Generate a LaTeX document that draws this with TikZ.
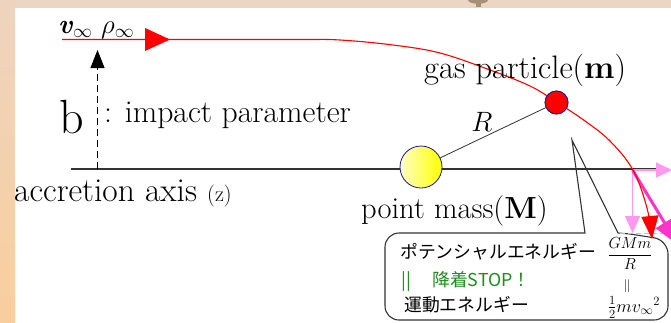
\RequirePackage{fix-cm}
\documentclass[tikz,border=0pt]{standalone}
\usepackage{fontspec}
\newfontfamily\jp{Noto Sans CJK JP}
\usetikzlibrary{arrows.meta}
\definecolor{topband}{HTML}{EBD5C3}
\definecolor{sidetop}{HTML}{EED4BE}
\definecolor{sidebot}{HTML}{F9CE9E}
\definecolor{blob}{HTML}{A88F78}
\definecolor{navy}{HTML}{1A1A80}
\definecolor{pinkA}{HTML}{FF99F0}
\definecolor{magentaA}{HTML}{FF33CC}
\definecolor{greenA}{HTML}{1E8C1E}
\definecolor{boxline}{HTML}{333333}
\tikzset{
  txt/.style={inner sep=0pt, anchor=base west},
  jtxt/.style={inner sep=0pt, anchor=base west, font={\jp\fontsize{17.8}{20}\selectfont}},
  mtxt/.style={inner sep=0pt, font=\fontsize{16}{19}\selectfont},
  mass/.style={circle, draw=navy, line width=0.8pt, minimum size=42pt, inner sep=0pt, left color=yellow!22, right color=yellow},
  particle/.style={circle, draw=navy, fill=red, line width=0.8pt, minimum size=23pt, inner sep=0pt},
  redline/.style={red, line width=1.1pt},
  axisline/.style={boxline, line width=1.2pt},
  callout/.style={boxline, line width=1.1pt},
}
\begin{document}
\begin{tikzpicture}[x=1pt,y=-1pt]
\useasboundingbox (0,0) rectangle (671,322);
\fill[white] (0,0) rectangle (671,322);
\fill[topband] (0,0) rectangle (671,8);
\shade[top color=sidetop, bottom color=sidebot] (0,0) rectangle (15,322);
\fill[blob] (468,0) .. controls (468,5) and (488,5) .. (488,0) -- cycle;
\fill[blob] (476,3) rectangle (481,7);

% axis
\coordinate (ax0) at (71,169);
\coordinate (ax1) at (657,169);
\draw[axisline] (ax0) -- (ax1);

% callout
\draw[callout] (572,140) -- (618,233) -- (630,234) [rounded corners=14pt] -- (668,240) -- (668,320) -- (385,320) -- (385,233) -- (570,233) [sharp corners] -- (585,233) -- cycle;

% impact parameter arrow
\coordinate (b0) at (97.5,169);
\coordinate (b1) at (97.5,50);
\draw[line width=1pt, dash pattern=on 7pt off 4pt, -{Triangle[length=18pt,width=14pt]}] (b0) -- (b1);

% pink arrows
\coordinate (P) at (632.5,170);
\coordinate (Pr) at (672,170);
\coordinate (Pd) at (632.5,233);
\coordinate (Pm) at (678,245);
\coordinate (d0) at (620,233);
\coordinate (d1) at (671,233);
\draw[pinkA, line width=1pt, dash pattern=on 5pt off 3pt] (d0) -- (d1);
\draw[pinkA, line width=1.2pt, -{Triangle[length=16pt,width=15pt]}] (P) -- (Pr);
\draw[pinkA, line width=1.2pt, -{Triangle[length=17pt,width=15pt]}] (P) -- (Pd);
\draw[magentaA, line width=3pt, -{Triangle[length=26pt,width=20pt]}] (P) -- (Pm);

% trajectory
\node[particle] (m) at (556.5,102.5) {};
\draw[redline, -{Triangle[length=23pt,width=17pt]}] plot[smooth, tension=0.6] coordinates {(62,39.5) (200,39.5) (300,39.5) (340,40) (393,45) (440,53) (490,70) (530,86) (556.5,102) (585,121) (610,141) (633,170) (647,208) (652,239)};
\fill[red] (145,28) -- (170,39.5) -- (145,51) -- cycle;
\node[particle] (m2) at (m) {};

% masses
\node[mass] (M) at (421,167) {};
\draw[boxline, line width=0.8pt] (M) -- (m2);

% labels
\node[inner sep=0pt, anchor=base west, font=\fontsize{27}{30}\selectfont] (vinf) at (58,33) {\textbf{\textit{v}}$_{\infty}$};
\node[inner sep=0pt, anchor=base west, font=\fontsize{27}{30}\selectfont] (rinf) at (101,33) {$\rho_{\infty}$};
\node[inner sep=0pt, anchor=base west, font=\fontsize{48}{54}\selectfont] (b) at (59,133) {b};
\node[txt, font=\fontsize{31.7}{36}\selectfont] (imp) at (104,122) {: impact parameter};
\node[txt, font=\fontsize{33.5}{38}\selectfont] (acc) at (14,201) {accretion axis {\fontsize{22}{26}\selectfont(z)}};
\node[txt, font=\fontsize{32.5}{37}\selectfont] (gas) at (424,78) {gas particle(\textbf{m})};
\node[txt, font=\fontsize{30.5}{35}\selectfont] (pm) at (361,218) {point mass(\textbf{M})};
\node[inner sep=0pt, font=\fontsize{28}{32}\selectfont] (R) at (482,122) {$R$};

% callout text
\node[jtxt] (j1) at (400,258) {ポテンシャルエネルギー};
\node[jtxt, text=greenA] (j2a) at (401,286) {||};
\node[jtxt, text=greenA] (j2) at (432,286) {降着STOP！};
\node[jtxt] (j3) at (404,311) {運動エネルギー};
\node[mtxt] (f1) at (630,253.5) {$\displaystyle\frac{GMm}{R}$};
\node[mtxt, font=\fontsize{13}{15}\selectfont] (eq) at (627,286) {$\|$};
\node[mtxt, font=\fontsize{18}{20}\selectfont] (f2) at (634,307.5) {$\frac{1}{2}mv_{\infty}{}^{2}$};
\end{tikzpicture}
\end{document}
